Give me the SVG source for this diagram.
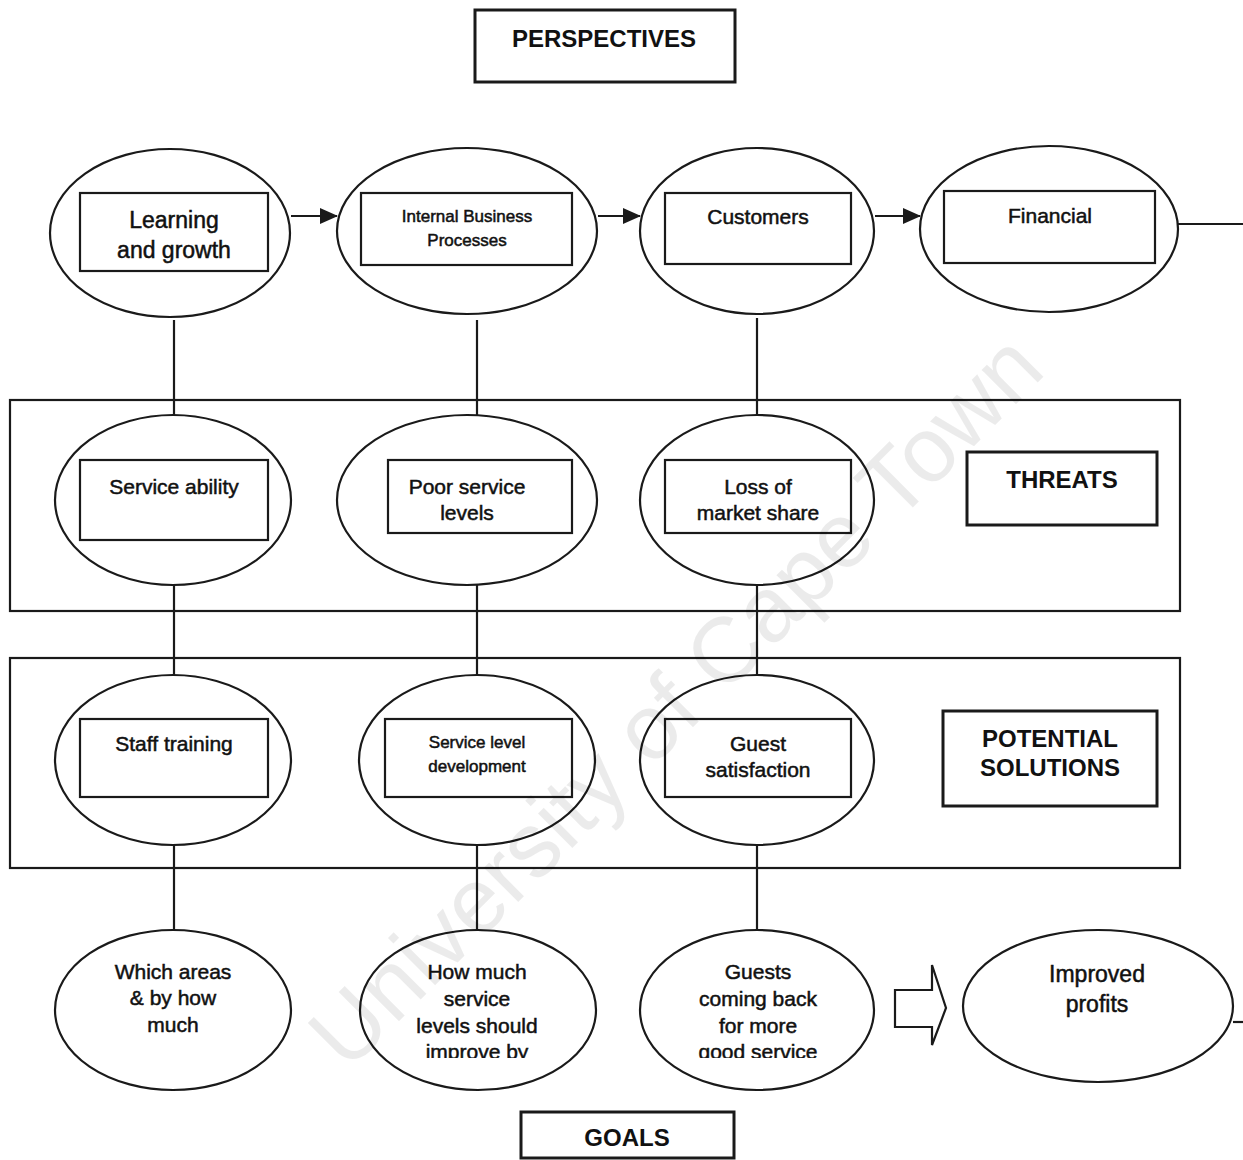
<svg xmlns="http://www.w3.org/2000/svg" width="1243" height="1160" viewBox="0 0 1243 1160">
<style>
.e{fill:none;stroke:#1a1a1a;stroke-width:2.2}
.r{fill:none;stroke:#1a1a1a;stroke-width:2.2}
.h{fill:none;stroke:#1a1a1a;stroke-width:3}
.l{stroke:#1a1a1a;stroke-width:2.2;fill:none}
.t{font-family:"Liberation Sans",Arial,sans-serif;font-size:21px;fill:#111;stroke:#111;stroke-width:0.5;text-anchor:middle}
.b{font-family:"Liberation Sans",Arial,sans-serif;font-size:24px;font-weight:bold;fill:#111;text-anchor:middle}
.s{font-size:17px}
.wm{font-family:"Liberation Sans",Arial,sans-serif;font-size:92px;fill:#000;fill-opacity:0.08;text-anchor:middle}
</style>
<defs>
<marker id="ah" markerWidth="18" markerHeight="16" refX="17" refY="8" orient="auto" markerUnits="userSpaceOnUse">
<path d="M0,0 L18,8 L0,16 Z" fill="#1a1a1a"/>
</marker>
<clipPath id="clipG"><rect x="0" y="0" width="1243" height="1058"/></clipPath>
</defs>
<rect width="1243" height="1160" fill="#fff"/>

<g id="bands">
<rect class="r" x="10" y="400" width="1170" height="211"/>
<rect class="r" x="10" y="658" width="1170" height="210"/>
</g>

<g id="connectors">
<line class="l" x1="291" y1="216" x2="337" y2="216" marker-end="url(#ah)"/>
<line class="l" x1="598" y1="216" x2="640" y2="216" marker-end="url(#ah)"/>
<line class="l" x1="875" y1="216" x2="920" y2="216" marker-end="url(#ah)"/>
<line class="l" x1="1178" y1="224" x2="1243" y2="224"/>
<line class="l" x1="174" y1="320" x2="174" y2="415"/>
<line class="l" x1="477" y1="320" x2="477" y2="415"/>
<line class="l" x1="757" y1="318" x2="757" y2="415"/>
<line class="l" x1="174" y1="585" x2="174" y2="675"/>
<line class="l" x1="477" y1="585" x2="477" y2="675"/>
<line class="l" x1="757" y1="585" x2="757" y2="675"/>
<line class="l" x1="174" y1="845" x2="174" y2="930"/>
<line class="l" x1="477" y1="845" x2="477" y2="930"/>
<line class="l" x1="757" y1="845" x2="757" y2="930"/>
<line class="l" x1="1233" y1="1022" x2="1243" y2="1022"/>
<path class="l" d="M895,990 L932,990 L932,965 L946,1008 L932,1045 L932,1027 L895,1027 Z"/>
</g>

<g id="perspectives">
<rect class="h" x="475" y="10" width="260" height="72"/>
<text class="b" x="604" y="47">PERSPECTIVES</text>
</g>

<g id="learning">
<ellipse class="e" cx="170" cy="233" rx="120" ry="84"/>
<rect class="r" x="80" y="193" width="188" height="78"/>
<text class="t" x="174" y="228" style="font-size:23px">Learning</text>
<text class="t" x="174" y="258" style="font-size:23px">and growth</text>
</g>
<g id="internal">
<ellipse class="e" cx="467" cy="231" rx="130" ry="83"/>
<rect class="r" x="361" y="193" width="211" height="72"/>
<text class="t s" x="467" y="222">Internal Business</text>
<text class="t s" x="467" y="246">Processes</text>
</g>
<g id="customers">
<ellipse class="e" cx="757" cy="231" rx="117" ry="83"/>
<rect class="r" x="665" y="193" width="186" height="71"/>
<text class="t" x="758" y="224">Customers</text>
</g>
<g id="financial">
<ellipse class="e" cx="1049" cy="229" rx="129" ry="83"/>
<rect class="r" x="944" y="191" width="211" height="72"/>
<text class="t" x="1050" y="223">Financial</text>
</g>

<g id="threats-label">
<rect class="h" x="967" y="452" width="190" height="73"/>
<text class="b" x="1062" y="488">THREATS</text>
</g>
<g id="service-ability">
<ellipse class="e" cx="173" cy="500" rx="118" ry="85"/>
<rect class="r" x="80" y="460" width="188" height="80"/>
<text class="t" x="174" y="494">Service ability</text>
</g>
<g id="poor-service">
<ellipse class="e" cx="467" cy="500" rx="130" ry="85"/>
<rect class="r" x="388" y="460" width="184" height="73"/>
<text class="t" x="467" y="494">Poor service</text>
<text class="t" x="467" y="520">levels</text>
</g>
<g id="loss-market">
<ellipse class="e" cx="757" cy="500" rx="117" ry="85"/>
<rect class="r" x="665" y="460" width="186" height="73"/>
<text class="t" x="758" y="494">Loss of</text>
<text class="t" x="758" y="520">market share</text>
</g>

<g id="solutions-label">
<rect class="h" x="943" y="711" width="214" height="95"/>
<text class="b" x="1050" y="747">POTENTIAL</text>
<text class="b" x="1050" y="776">SOLUTIONS</text>
</g>
<g id="staff-training">
<ellipse class="e" cx="173" cy="760" rx="118" ry="85"/>
<rect class="r" x="80" y="719" width="188" height="78"/>
<text class="t" x="174" y="751">Staff training</text>
</g>
<g id="service-level">
<ellipse class="e" cx="477" cy="760" rx="118" ry="85"/>
<rect class="r" x="385" y="719" width="187" height="78"/>
<text class="t s" x="477" y="748">Service level</text>
<text class="t s" x="477" y="772">development</text>
</g>
<g id="guest-satisfaction">
<ellipse class="e" cx="757" cy="760" rx="117" ry="85"/>
<rect class="r" x="665" y="719" width="186" height="78"/>
<text class="t" x="758" y="751">Guest</text>
<text class="t" x="758" y="777">satisfaction</text>
</g>

<g id="which-areas">
<ellipse class="e" cx="173" cy="1010" rx="118" ry="80"/>
<text class="t" x="173" y="979">Which areas</text>
<text class="t" x="173" y="1005">&amp; by how</text>
<text class="t" x="173" y="1032">much</text>
</g>
<g id="how-much">
<ellipse class="e" cx="478" cy="1010" rx="118" ry="80"/>
<g clip-path="url(#clipG)">
<text class="t" x="477" y="979">How much</text>
<text class="t" x="477" y="1006">service</text>
<text class="t" x="477" y="1033">levels should</text>
<text class="t" x="477" y="1059">improve by</text>
</g>
</g>
<g id="guests-coming">
<ellipse class="e" cx="757" cy="1010" rx="117" ry="80"/>
<g clip-path="url(#clipG)">
<text class="t" x="758" y="979">Guests</text>
<text class="t" x="758" y="1006">coming back</text>
<text class="t" x="758" y="1033">for more</text>
<text class="t" x="758" y="1059">good service</text>
</g>
</g>
<g id="improved-profits">
<ellipse class="e" cx="1098" cy="1006" rx="135" ry="76"/>
<text class="t" x="1097" y="982" style="font-size:23px">Improved</text>
<text class="t" x="1097" y="1012" style="font-size:23px">profits</text>
</g>
<g id="goals">
<rect class="h" x="521" y="1112" width="213" height="46"/>
<text class="b" x="627" y="1146">GOALS</text>
</g>

<text class="wm" x="675" y="732" transform="rotate(-45 675 700)">University of Cape Town</text>
</svg>
